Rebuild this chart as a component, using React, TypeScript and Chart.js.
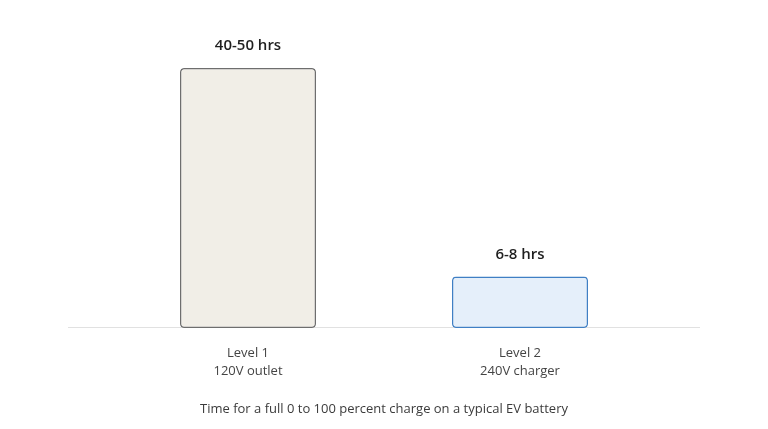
import React, { useEffect, useRef } from 'react';
import { Chart, registerables, Plugin } from 'chart.js';

Chart.register(...registerables);

const categories: string[][] = [
  ['Level 1', '120V outlet'],
  ['Level 2', '240V charger'],
];
// midpoint of the charge-time range, in hours
const hours = [45, 8.9];
const rangeLabels = ['40-50 hrs', '6-8 hrs'];
const caption = 'Time for a full 0 to 100 percent charge on a typical EV battery';

const fills = ['#f1eee7', '#e5effa'];
const borders = ['#6e6e6e', '#3f7fc4'];

const FONT = '"Segoe UI", "Open Sans", "Noto Sans", sans-serif';

// long light baseline under both bars, wider than the plot area
const baselinePlugin: Plugin<'bar'> = {
  id: 'baseline',
  beforeDatasetsDraw(chart) {
    const { ctx, chartArea, scales } = chart;
    const y = Math.round(scales.y.getPixelForValue(0)) - 0.5;
    ctx.save();
    ctx.strokeStyle = '#e1e1e1';
    ctx.lineWidth = 1;
    ctx.beginPath();
    ctx.moveTo(chartArea.left - 44, y);
    ctx.lineTo(chartArea.right + 44, y);
    ctx.stroke();
    ctx.restore();
  },
};

// range text above each bar
const rangePlugin: Plugin<'bar'> = {
  id: 'rangeLabels',
  afterDatasetsDraw(chart) {
    const { ctx } = chart;
    const meta = chart.getDatasetMeta(0);
    ctx.save();
    ctx.font = `600 15px ${FONT}`;
    ctx.fillStyle = '#1f1f1f';
    ctx.textAlign = 'center';
    ctx.textBaseline = 'middle';
    meta.data.forEach((bar, i) => {
      ctx.fillText(rangeLabels[i], bar.x, bar.y - 22);
    });
    ctx.restore();
  },
};

const App: React.FC = () => {
  const canvasRef = useRef<HTMLCanvasElement | null>(null);
  const chartRef = useRef<Chart | null>(null);

  useEffect(() => {
    if (!canvasRef.current) return;
    if (chartRef.current) chartRef.current.destroy();

    chartRef.current = new Chart(canvasRef.current, {
      type: 'bar',
      data: {
        labels: categories,
        datasets: [
          {
            data: hours,
            backgroundColor: fills,
            borderColor: borders,
            borderWidth: 1.5,
            borderRadius: 4,
            borderSkipped: false,
            barPercentage: 0.5,
            categoryPercentage: 1,
          },
        ],
      },
      options: {
        responsive: true,
        maintainAspectRatio: false,
        animation: false,
        layout: { padding: { top: 68, left: 112, right: 112, bottom: 10 } },
        plugins: {
          legend: { display: false },
          tooltip: { enabled: false },
          title: {
            display: true,
            position: 'bottom',
            text: caption,
            color: '#3b3b3b',
            font: { family: FONT, size: 13, weight: 'normal' },
            padding: { top: 5, bottom: 2 },
          },
        },
        scales: {
          x: {
            grid: { display: false, drawTicks: false },
            border: { display: false },
            ticks: {
              color: '#444444',
              font: { family: FONT, size: 13, lineHeight: 1.4 },
              padding: 16,
            },
          },
          y: {
            display: false,
            min: 0,
            max: 45,
          },
        },
      },
      plugins: [baselinePlugin, rangePlugin],
    });

    return () => {
      if (chartRef.current) {
        chartRef.current.destroy();
        chartRef.current = null;
      }
    };
  }, []);

  return (
    <div style={{ position: 'fixed', inset: 0, background: '#ffffff' }}>
      <canvas ref={canvasRef}></canvas>
    </div>
  );
};

export default App;
